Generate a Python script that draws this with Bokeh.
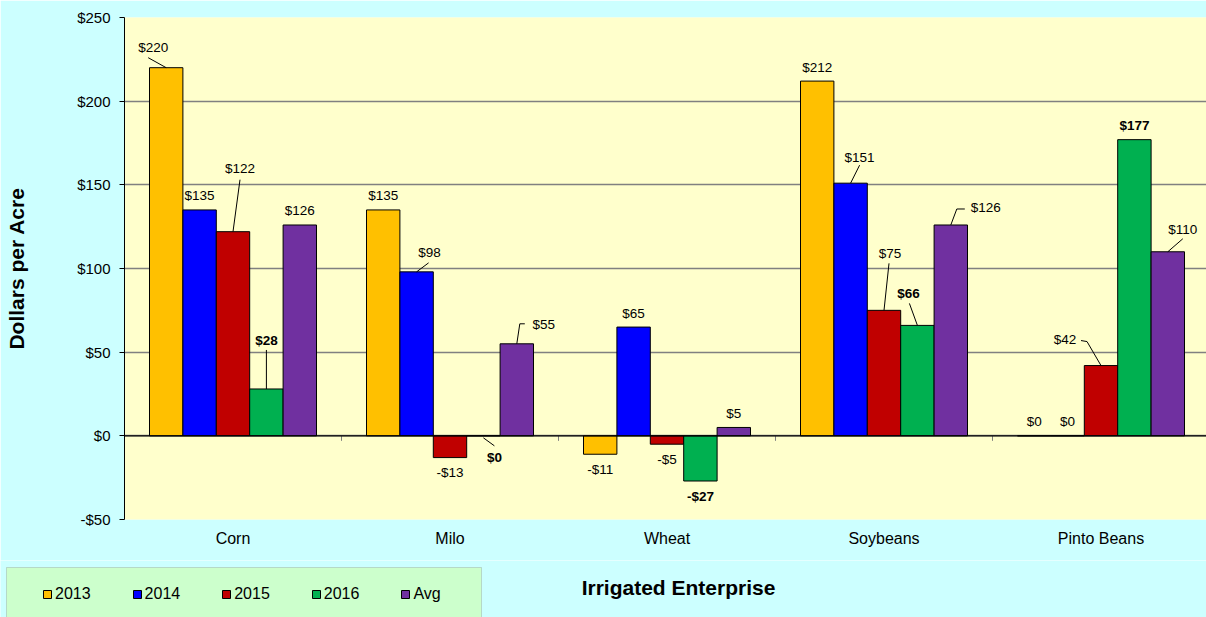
import numpy as np
from bokeh.plotting import figure
from bokeh.models import (Range1d, FixedTicker, Span, Legend, LegendItem, ColumnDataSource,
                          BoxAnnotation, Label)
from bokeh.core.properties import value
from bokeh.embed import file_html
from bokeh.resources import INLINE

# ---------------- data ----------------
categories = ["Corn", "Milo", "Wheat", "Soybeans", "Pinto Beans"]
series = ["2013", "2014", "2015", "2016", "Avg"]
v2013 = [220, 135, -11, 212, 0]
v2014 = [135, 98, 65, 151, 0]
v2015 = [122, -13, -5, 75, 42]
v2016 = [28, 0, -27, 66, 177]
vavg = [126, 55, 5, 126, 110]
y_ticks = [-50, 0, 50, 100, 150, 200, 250]
x_title = "Irrigated Enterprise"
y_title = "Dollars per Acre"

# ---------------- styles / layout ----------------
colors = ["#FFC000", "#0000FF", "#C00000", "#00B050", "#7030A0"]
bold_series = {"2016"}
FONT = "Liberation Sans"
BG = "#CCFFFF"
PLOT_BG = "#FFFFCC"
LEG_BG = "#CCFFCC"
GRID = "#808080"

PAGE_W, PAGE_H = 1206, 617
W, H = PAGE_W, 560
ML, MR, MT, MB = 124, 0, 17, 41
FW = W - ML - MR
FH = H - MT - MB
CAT_PX = 217.0
x_lo = -0.5
x_hi = x_lo + FW / CAT_PX
y_lo, y_hi = y_ticks[0], y_ticks[-1]
PX_Y = FH / (y_hi - y_lo)
BAR_PX = 33.4
bw = BAR_PX / CAT_PX

# label placement (screen px relative to bar end): (dx, dy, leader path)
label_pos = {
    (0, 0): (-13, -20, [(0, 0), (-18, -10)]),
    (0, 2): (7, -63, [(0, 0), (7, -52)]),
    (0, 3): (0, -48, [(0, 0), (0, -39)]),
    (1, 1): (13, -19, [(0, 0), (12, -9)]),
    (1, 3): (11, 22, [(0, 2), (11, 10)]),
    (1, 4): (27, -19, [(0, 0), (3, -20), (8, -20)]),
    (3, 1): (9, -26, [(0, 0), (9, -18)]),
    (3, 2): (6, -57, [(0, 0), (5, -47)]),
    (3, 3): (-9, -32, [(0, 0), (-8, -22)]),
    (3, 4): (35, -17, [(0, 0), (6, -16), (14, -16)]),
    (4, 2): (-36, -26, [(0, 0), (-14, -24), (-20, -25)]),
    (4, 4): (15, -22, [(0, 0), (15, -13)]),
}

p = figure(width=W, height=H, x_range=Range1d(x_lo, x_hi), y_range=Range1d(y_lo, y_hi),
           output_backend="svg", toolbar_location=None,
           min_border_left=ML, min_border_right=MR, min_border_top=MT, min_border_bottom=MB)
p.background_fill_color = PLOT_BG
p.border_fill_color = BG
p.outline_line_color = None

p.xgrid.grid_line_color = None
p.ygrid.grid_line_color = GRID
p.ygrid.grid_line_width = 1.5
p.ygrid.ticker = FixedTicker(ticks=y_ticks)

p.yaxis.ticker = FixedTicker(ticks=y_ticks)
p.yaxis.major_label_overrides = {t: ("-$%d" % -t if t < 0 else "$%d" % t) for t in y_ticks}
p.yaxis.axis_line_color = "black"
p.yaxis.major_tick_line_color = "black"
p.yaxis.major_tick_out = 5
p.yaxis.major_tick_in = 0
p.yaxis.minor_tick_line_color = None
p.yaxis.major_label_standoff = 9
p.yaxis.major_label_text_font = FONT
p.yaxis.major_label_text_font_size = "15px"
p.yaxis.major_label_text_color = "black"
p.yaxis.axis_label = y_title
p.yaxis.axis_label_text_font = FONT
p.yaxis.axis_label_text_font_size = "21px"
p.yaxis.axis_label_text_font_style = "bold"
p.yaxis.axis_label_text_color = "black"
p.yaxis.axis_label_standoff = 46

p.xaxis.ticker = FixedTicker(ticks=list(range(len(categories))))
p.xaxis.major_label_overrides = {i: c for i, c in enumerate(categories)}
p.xaxis.axis_line_color = None
p.xaxis.major_tick_line_color = None
p.xaxis.minor_tick_line_color = None
p.xaxis.major_label_standoff = 4
p.xaxis.major_label_text_font = FONT
p.xaxis.major_label_text_font_size = "16px"
p.xaxis.major_label_text_color = "black"

p.add_layout(Span(location=0, dimension="width", line_color="black", line_width=1.2))
bx = np.arange(len(categories) - 1) + 0.5
p.segment(x0=bx, y0=np.zeros(len(bx)), x1=bx, y1=np.full(len(bx), -5 / PX_Y),
          line_color=GRID, line_width=1)

vals = [v2013, v2014, v2015, v2016, vavg]
cat_idx = np.arange(len(categories))
for j, s in enumerate(series):
    xs = cat_idx + (j - 2) * bw
    p.vbar(x=xs, top=vals[j], bottom=0, width=bw, fill_color=colors[j],
           line_color="black", line_width=1)

norm = dict(x=[], y=[], t=[])
bold = dict(x=[], y=[], t=[])
lx_all, ly_all = [], []
for j, s in enumerate(series):
    for i in range(len(categories)):
        v = vals[j][i]
        xb = i + (j - 2) * bw
        default = (0, -14 if v >= 0 else 15, None)
        dx, dy, path = label_pos.get((i, j), default)
        tx = xb + dx / CAT_PX
        ty = v - dy / PX_Y
        txt = ("-$%d" % -v) if v < 0 else ("$%d" % v)
        d = bold if s in bold_series else norm
        d["x"].append(tx); d["y"].append(ty); d["t"].append(txt)
        if path:
            lx_all.append([xb + px / CAT_PX for px, py in path])
            ly_all.append([v - py / PX_Y for px, py in path])

p.multi_line(xs=lx_all, ys=ly_all, line_color="black", line_width=1)
p.text(x="x", y="y", text="t", source=ColumnDataSource(norm), text_align="center",
       text_baseline="middle", text_font=value(FONT), text_font_size=value("13.5px"),
       text_color="black")
p.text(x="x", y="y", text="t", source=ColumnDataSource(bold), text_align="center",
       text_baseline="middle", text_font=value(FONT), text_font_size=value("13.5px"),
       text_font_style="bold", text_color="black")

# ---------------- bottom strip: legend + x title ----------------
LH = PAGE_H - H
q = figure(width=PAGE_W, height=LH, x_range=Range1d(0, PAGE_W), y_range=Range1d(PAGE_H, H),
           output_backend="svg", toolbar_location=None, x_axis_location=None,
           y_axis_location=None, min_border=0, min_border_left=0, min_border_right=0,
           min_border_top=0, min_border_bottom=0)
q.background_fill_color = BG
q.border_fill_color = BG
q.outline_line_color = None
q.xgrid.grid_line_color = None
q.ygrid.grid_line_color = None

q.add_layout(BoxAnnotation(left=6, right=481, top=567, bottom=PAGE_H + 10,
                           fill_color=LEG_BG, fill_alpha=1, line_color=GRID, line_width=1))

leg_r = []
for j, s in enumerate(series):
    r = q.vbar(x=cat_idx, top=vals[j], bottom=0, width=bw, fill_color=colors[j],
               line_color="black", line_width=1, visible=False)
    leg_r.append(r)

legend = Legend(items=[LegendItem(label=s, renderers=[leg_r[j]]) for j, s in enumerate(series)],
                orientation="horizontal", location=(42, 13),
                background_fill_alpha=0, border_line_color=None,
                padding=10, spacing=41, glyph_width=10, glyph_height=10,
                label_standoff=3, label_text_font=FONT, label_text_font_size="16px",
                label_text_color="black", margin=0, label_height=20)
q.add_layout(legend, "center")

q.add_layout(Label(x=678, y=587, text=x_title, text_align="center", text_baseline="middle",
                   text_font=FONT, text_font_size="21px", text_font_style="bold",
                   text_color="black"))

open("out.html", "w").write(file_html([p, q], INLINE))
